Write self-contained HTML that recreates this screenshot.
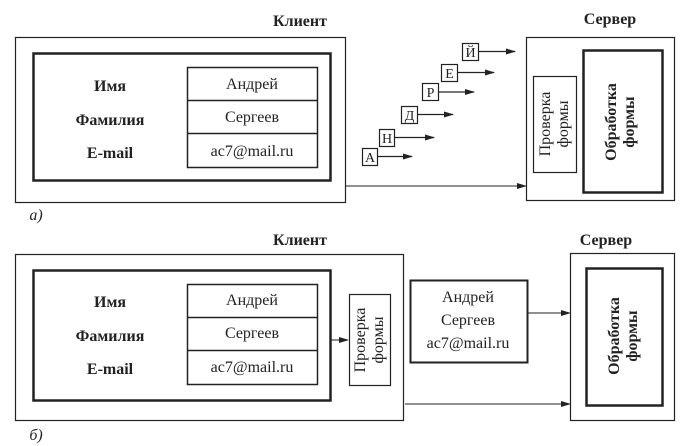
<!DOCTYPE html>
<html><head><meta charset="utf-8"><style>body{margin:0;background:#fff}svg{display:block}</style></head><body>
<svg width="684" height="446" viewBox="0 0 684 446" xmlns="http://www.w3.org/2000/svg" font-family="Liberation Serif, serif" fill="none" stroke="#222">
<defs><marker id="a" markerWidth="10" markerHeight="8" refX="9" refY="4" orient="auto" markerUnits="userSpaceOnUse"><path d="M0,1 L10,4 L0,7 Z" fill="#222" stroke="none"/></marker></defs>
<g fill="#222" stroke="none" font-weight="bold" font-size="16" text-anchor="middle">
<text x="300" y="26">Клиент</text><text x="610" y="24">Сервер</text>
<text x="300" y="245">Клиент</text><text x="606" y="245">Сервер</text>
<text x="110" y="91">Имя</text><text x="110" y="125">Фамилия</text><text x="110" y="158">E-mail</text>
<text x="110" y="307">Имя</text><text x="110" y="341">Фамилия</text><text x="110" y="374">E-mail</text>
</g>
<g fill="#222" stroke="none" font-size="16" text-anchor="middle">
<text x="252" y="89">Андрей</text><text x="252" y="122">Сергеев</text><text x="252" y="156">ac7@mail.ru</text>
<text x="252" y="305">Андрей</text><text x="252" y="338">Сергеев</text><text x="252" y="372">ac7@mail.ru</text>
<text x="468" y="302">Андрей</text><text x="468" y="325">Сергеев</text><text x="468" y="348">ac7@mail.ru</text>
<text font-style="italic" x="36" y="220">а)</text><text font-style="italic" x="36" y="440">б)</text>
</g>
<rect x="15.5" y="37.5" width="330" height="165" stroke-width="1.2"/>
<rect x="33.5" y="53.5" width="297" height="127" stroke-width="2.5"/>
<rect x="187.5" y="67.5" width="130" height="100" stroke-width="1.5"/>
<line x1="187" y1="100.5" x2="317" y2="100.5" stroke-width="1.5"/><line x1="187" y1="133.5" x2="317" y2="133.5" stroke-width="1.5"/>
<line x1="345" y1="186" x2="526" y2="186" marker-end="url(#a)"/>
<g stroke-width="1.2">
<rect x="362.5" y="148.5" width="15" height="17"/><line x1="378" y1="156.5" x2="412" y2="156.5" marker-end="url(#a)"/>
<rect x="379.5" y="129.5" width="15" height="17"/><line x1="395" y1="137.5" x2="434" y2="137.5" marker-end="url(#a)"/>
<rect x="401.5" y="106.5" width="16" height="17"/><line x1="418" y1="114.5" x2="453" y2="114.5" marker-end="url(#a)"/>
<rect x="422.5" y="83.5" width="16" height="17"/><line x1="439" y1="92" x2="474" y2="92" marker-end="url(#a)"/>
<rect x="441.5" y="64.5" width="16" height="17"/><line x1="458" y1="72.5" x2="494" y2="72.5" marker-end="url(#a)"/>
<rect x="462.5" y="43.5" width="16" height="17"/><line x1="479" y1="51.5" x2="515" y2="51.5" marker-end="url(#a)"/>
</g>
<g fill="#222" stroke="none" font-size="14" text-anchor="middle">
<text x="370" y="162">А</text><text x="387" y="143">Н</text><text x="409.5" y="120">Д</text><text x="430.5" y="97">Р</text><text x="449.5" y="78">Е</text><text x="470.5" y="57">Й</text>
</g>
<rect x="526.5" y="37.5" width="148" height="163" stroke-width="1.2"/>
<rect x="583.5" y="50.5" width="79" height="142" stroke-width="2.5"/>
<rect x="533.5" y="76.5" width="43" height="96" stroke-width="1.2"/>
<g fill="#222" stroke="none" font-size="16" text-anchor="middle">
<text transform="translate(550,124) rotate(-90)">Проверка</text><text transform="translate(568,124) rotate(-90)">формы</text>
<text font-weight="bold" transform="translate(616,122) rotate(-90)">Обработка</text><text font-weight="bold" transform="translate(634,122) rotate(-90)">формы</text>
</g>
<rect x="15.5" y="254.5" width="388" height="166" stroke-width="1.2"/>
<rect x="33.5" y="270.5" width="297" height="130" stroke-width="2.5"/>
<rect x="187.5" y="284.5" width="130" height="100" stroke-width="1.5"/>
<line x1="187" y1="317.5" x2="317" y2="317.5" stroke-width="1.5"/><line x1="187" y1="350.5" x2="317" y2="350.5" stroke-width="1.5"/>
<line x1="331" y1="340" x2="348" y2="340" marker-end="url(#a)"/>
<rect x="349.5" y="294.5" width="41" height="91" stroke-width="1.2"/>
<g fill="#222" stroke="none" font-size="16" text-anchor="middle">
<text transform="translate(365,340) rotate(-90)">Проверка</text><text transform="translate(383,340) rotate(-90)">формы</text>
<text font-weight="bold" transform="translate(619,336) rotate(-90)">Обработка</text><text font-weight="bold" transform="translate(637,336) rotate(-90)">формы</text>
</g>
<rect x="410.5" y="280.5" width="117" height="82" stroke-width="2"/>
<line x1="527" y1="313" x2="570" y2="313" marker-end="url(#a)"/>
<line x1="405" y1="404" x2="570" y2="404" marker-end="url(#a)"/>
<rect x="570.5" y="253.5" width="104" height="167" stroke-width="1.2"/>
<rect x="586.5" y="268.5" width="76" height="137" stroke-width="2.5"/>
</svg>
</body></html>
